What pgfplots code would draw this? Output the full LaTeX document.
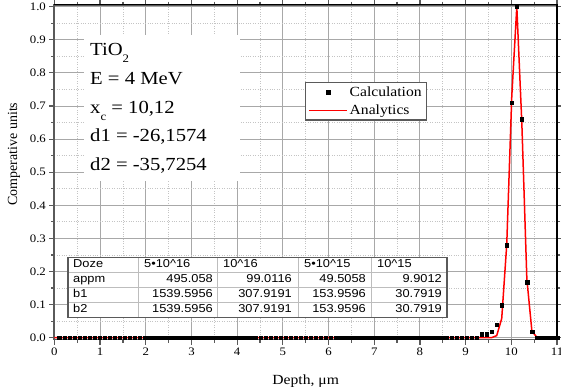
\documentclass[border=0pt]{standalone}
\usepackage{pgfplots}
\usepackage{pgfplotstable}
\pgfplotsset{compat=1.18}
\usepackage{fontspec}
\setmainfont{Liberation Serif}[FakeStretch=1.12]
\newfontfamily\plainserif{Liberation Serif}
\newfontfamily\tabfont{Liberation Sans}[FakeStretch=1.12]
\definecolor{axgray}{HTML}{5A5A5A}
\definecolor{gridmaj}{HTML}{A8A8A8}
\definecolor{gridmin}{HTML}{C4C4C4}
\definecolor{tabline}{HTML}{BDBDBD}
\newcommand{\lowsub}[1]{\raisebox{-0.42em}{\fontsize{11.5}{12}\selectfont #1}}
\pgfplotsset{
  calcleg/.style={legend image code/.code={\path[draw=none,fill=none] (0bp,0bp) -- (38bp,0bp); \draw[##1] plot coordinates {(19bp,0bp)};}},
  analeg/.style={legend image code/.code={\draw[##1] (0bp,0bp) -- (38bp,0bp);}},
}

\pgfplotstableread{
x y
0.11 0
0.22 0
0.33 0
0.44 0
0.55 0
0.66 0
0.77 0
0.88 0
0.99 0
1.10 0
1.21 0
1.32 0
1.43 0
1.54 0
1.65 0
1.76 0
1.87 0
1.98 0
2.09 0
2.20 0
2.31 0
2.42 0
2.53 0
2.64 0
2.75 0
2.86 0
2.97 0
3.08 0
3.19 0
3.30 0
3.41 0
3.52 0
3.63 0
3.74 0
3.85 0
3.96 0
4.07 0
4.18 0
4.29 0
4.40 0
4.51 0
4.62 0
4.73 0
4.84 0
4.95 0
5.06 0
5.17 0
5.28 0
5.39 0
5.50 0
5.61 0
5.72 0
5.83 0
5.94 0
6.05 0
6.16 0
6.27 0
6.38 0
6.49 0
6.60 0
6.71 0
6.82 0
6.93 0
7.04 0
7.15 0
7.26 0
7.37 0
7.48 0
7.59 0
7.70 0
7.81 0
7.92 0
8.03 0
8.14 0
8.25 0
8.36 0
8.47 0
8.58 0
8.69 0
8.80 0
8.91 0
9.02 0
9.13 0
9.24 0
9.35 0.011
9.46 0.011
9.57 0.018
9.68 0.039
9.79 0.099
9.90 0.279
10.01 0.710
10.12 1.000
10.23 0.660
10.34 0.168
10.45 0.018
10.56 0
10.67 0
10.78 0
10.89 0
11.00 0
}\calcdata

\pgfplotstableread{
x y
0 0
9.46 0
9.57 0.0004
9.68 0.0063
9.79 0.058
9.90 0.282
10.01 0.729
10.12 1.000
10.23 0.649
10.34 0.1775
10.45 0.0204
10.56 0.001
10.67 0
11 0
}\anadata

\begin{document}
\begin{tikzpicture}
\begin{axis}[
  scale only axis, width=502.6bp, height=334.8bp,
  xmin=0, xmax=11, ymin=-0.0054, ymax=1.006,
  xtick={0,1,2,3,4,5,6,7,8,9,10,11},
  ytick={0,0.1,0.2,0.3,0.4,0.5,0.6,0.7,0.8,0.9,1.0},
  minor x tick num=1, minor y tick num=1,
  grid=both,
  major grid style={gridmaj, line width=0.9bp},
  minor grid style={gridmin, dotted, line width=0.8bp},
  tick align=outside, major tick length=5bp, minor tick length=3bp,
  every tick/.style={axgray, line width=1.2bp},
  axis line style={axgray, line width=1.8bp},
  tick label style={font=\fontsize{11.5}{12}\selectfont},
  /pgf/number format/assume math mode=true,
  y tick label style={/pgf/number format/.cd, fixed, fixed zerofill, precision=1, /tikz/.cd},
  clip=false,
  legend cell align=left,
  legend style={at={(axis cs:5.474,0.7725)}, anchor=north west, draw=axgray, line width=1.3bp,
    font=\fontsize{14}{14}\selectfont, inner xsep=3bp, inner ysep=2bp, row sep=3bp},
]
\addplot[only marks, mark=square*, mark size=1.8bp, black, line width=0.3bp, calcleg]
  table[x=x,y=y] {\calcdata};
\addlegendentry{Calculation}
\addplot[red, line width=1.5bp, no marks, analeg]
  table[x=x,y=y] {\anadata};
\addlegendentry{Analytics}
\draw[black, line width=1.5bp] (rel axis cs:0,1) -- (rel axis cs:1,1) -- (rel axis cs:1,0);
\end{axis}
\begin{scope}[shift={([xshift=-54.4bp,yshift=4.7bp]current axis.north west)}, x=1bp, y=-1bp]
  % text block
  \fill[white] (84,35) rectangle (240,181);
  \begin{scope}[every node/.style={anchor=base west, inner sep=0pt, font=\fontsize{18.5}{20}\selectfont}]
    \node at (90,55) {TiO\lowsub{2}};
    \node at (90,84) {E = 4 MeV};
    \node at (90,113) {x\lowsub{c} = 10,12};
    \node at (90,141) {d1 = -26,1574};
    \node at (90,170) {d2 = -35,7254};
  \end{scope}
  % table
  \fill[white] (68,257.7) rectangle (447,317.7);
  \draw[tabline, line width=0.8bp] (68,272.7) -- (447,272.7) (68,287.7) -- (447,287.7) (68,302.7) -- (447,302.7)
     (138,257.7) -- (138,317.7) (217,257.7) -- (217,317.7) (298,257.7) -- (298,317.7) (371,257.7) -- (371,317.7);
  \draw[axgray, line width=1.2bp] (68,257.7) rectangle (447,317.7);
  \begin{scope}[every node/.style={inner sep=0pt, font=\tabfont\fontsize{11.5}{12}\selectfont}]
    \node[anchor=mid west] at (73,265.2) {Doze};
    \node[anchor=mid west] at (73,280.2) {appm};
    \node[anchor=mid west] at (73,295.2) {b1};
    \node[anchor=mid west] at (73,310.2) {b2};
    \node[anchor=mid west] at (144,265.2) {5•10\textasciicircum 16};
    \node[anchor=mid west] at (223,265.2) {10\textasciicircum 16};
    \node[anchor=mid west] at (304,265.2) {5•10\textasciicircum 15};
    \node[anchor=mid west] at (377,265.2) {10\textasciicircum 15};
    \node[anchor=mid east] at (213,280.2) {495.058};
    \node[anchor=mid east] at (292,280.2) {99.0116};
    \node[anchor=mid east] at (366,280.2) {49.5058};
    \node[anchor=mid east] at (442,280.2) {9.9012};
    \node[anchor=mid east] at (213,295.2) {1539.5956};
    \node[anchor=mid east] at (292,295.2) {307.9191};
    \node[anchor=mid east] at (366,295.2) {153.9596};
    \node[anchor=mid east] at (442,295.2) {30.7919};
    \node[anchor=mid east] at (213,310.2) {1539.5956};
    \node[anchor=mid east] at (292,310.2) {307.9191};
    \node[anchor=mid east] at (366,310.2) {153.9596};
    \node[anchor=mid east] at (442,310.2) {30.7919};
  \end{scope}
  % axis labels
  \node[anchor=base, inner sep=0pt, font=\fontsize{14}{14}\selectfont] at (305.7,384) {Depth, μm};
  \node[rotate=90, anchor=center, inner sep=0pt, font=\plainserif\fontsize{14}{14}\selectfont] at (14,154) {Comperative units};
  \pgfresetboundingbox
  \path[use as bounding box] (0,0) rectangle (561,391);
\end{scope}
\end{tikzpicture}
\end{document}
